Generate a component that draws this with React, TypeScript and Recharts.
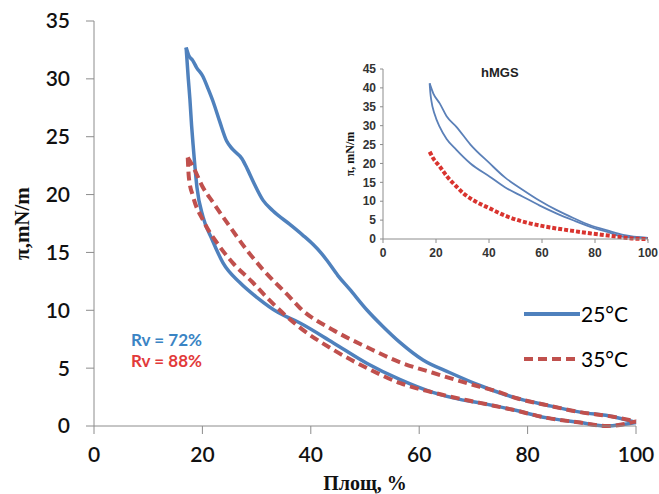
import React from 'react';
import { LineChart, Line, XAxis, YAxis } from 'recharts';

// π–A isotherm loops, [area %, π mN/m]
const blue25Compression: [number, number][] = [
  [17.0, 32.7], [17.5, 32.0], [18.2, 31.6], [18.9, 31.0], [20.1, 30.2], [21.0, 29.2],
  [22.0, 28.0], [23.2, 26.3], [24.5, 24.6], [25.6, 23.9], [27.3, 23.1], [28.3, 22.2],
  [29.3, 21.2], [31.2, 19.5], [33.0, 18.6], [36.2, 17.4], [38.5, 16.5], [40.4, 15.7],
  [42.0, 14.9], [43.0, 14.3], [45.0, 13.0], [47.2, 11.8], [50.4, 10.0], [53.3, 8.6],
  [56.5, 7.2], [60.7, 5.7], [65.7, 4.6], [71.2, 3.5], [77.3, 2.5], [83.6, 1.8],
  [89.7, 1.2], [95.8, 0.8], [100, 0.3],
];
const blue25Expansion: [number, number][] = [
  [17.0, 32.7], [17.4, 30.0], [17.7, 28.2], [18.0, 26.0], [18.3, 24.2], [19.0, 20.6],
  [20.1, 18.1], [21.8, 16.1], [23.8, 14.1], [26.9, 12.4], [30.1, 11.1], [34.0, 9.8],
  [38.0, 8.9], [44.1, 7.2], [50.4, 5.4], [56.5, 4.0], [62.5, 2.9], [67.5, 2.3],
  [71.2, 2.0], [77.3, 1.4], [83.6, 0.7], [89.7, 0.3], [94.6, 0.0], [100, 0.3],
];
const red35Compression: [number, number][] = [
  [17.3, 23.2], [18.3, 22.4], [20.0, 20.7], [22.0, 19.3], [25.1, 17.2], [28.2, 15.2],
  [31.2, 13.5], [36.2, 11.1], [38.0, 10.2], [44.1, 8.3], [50.4, 6.8], [56.5, 5.5],
  [62.5, 4.6], [68.8, 3.7], [74.9, 2.9], [77.3, 2.5], [83.6, 1.8], [89.7, 1.2],
  [95.8, 0.8], [100, 0.4],
];
const red35Expansion: [number, number][] = [
  [17.3, 23.2], [17.5, 21.5], [18.3, 19.8], [20.1, 17.8], [23.2, 15.5], [25.6, 14.1],
  [29.3, 12.4], [31.9, 11.1], [38.0, 8.5], [44.1, 6.6], [50.4, 5.0], [56.5, 3.7],
  [62.5, 2.9], [71.2, 2.0], [77.3, 1.4], [83.6, 0.7], [89.7, 0.3], [94.6, 0.0], [100, 0.4],
];

// hMGS inset
const hmgsBlueOuter: [number, number][] = [
  [17.6, 41.2], [19.0, 38.5], [21.4, 35.9], [24.0, 32.5], [27.7, 29.7], [33.0, 25.0],
  [40.3, 20.0], [46.0, 16.3], [52.8, 13.0], [59.0, 10.2], [65.4, 7.7], [72.0, 5.5],
  [78.0, 3.7], [85.0, 2.2], [90.6, 1.1], [100, 0.3],
];
const hmgsBlueInner: [number, number][] = [
  [17.6, 41.2], [17.9, 38.5], [18.2, 36.8], [19.5, 33.0], [21.4, 29.7], [24.0, 26.5],
  [27.7, 23.6], [33.0, 20.0], [40.3, 16.5], [46.0, 13.7], [52.8, 11.2], [59.0, 8.9],
  [65.4, 6.8], [72.0, 4.9], [78.0, 3.3], [85.0, 1.8], [90.6, 0.6], [100, 0.3],
];
const hmgsRed: [number, number][] = [
  [17.6, 23.1], [19.0, 21.3], [21.4, 19.2], [24.0, 16.7], [27.7, 13.9], [30.5, 12.0],
  [34.0, 10.3], [40.3, 8.1], [46.0, 6.2], [52.8, 4.6], [59.0, 3.6], [65.4, 2.8],
  [72.0, 2.1], [78.0, 1.5], [85.0, 0.9], [90.6, 0.4], [95.0, 0.1], [100, 0.0],
];

const xTicks = [0, 20, 40, 60, 80, 100];
const yTicks = [0, 5, 10, 15, 20, 25, 30, 35];
const insetYTicks = [0, 5, 10, 15, 20, 25, 30, 35, 40, 45];

const legendItems = [
  { label: '25°C', color: '#4f81bd', dash: undefined as string | undefined },
  { label: '35°C', color: '#c0504d', dash: '9 5' },
];

const BLUE = '#4f81bd';
const RED = '#c0504d';
const AXIS = '#8c8c8c';
const SANS = 'Lato, "Open Sans", sans-serif';
const ARIAL = '"Liberation Sans", Arial, sans-serif';
const SERIF = '"Liberation Serif", "DejaVu Serif", serif';

const toPoints = (rows: [number, number][]) => rows.map(([x, y]) => ({ x, y }));

const LegendBox = () => (
  <div style={{ position: 'absolute', left: 524, top: 291 }}>
    {legendItems.map((item) => (
      <div key={item.label} style={{ display: 'flex', alignItems: 'center', height: 45 }}>
        <svg width={56} height={10}>
          <line x1={0} y1={5} x2={56} y2={5} stroke={item.color} strokeWidth={4} strokeDasharray={item.dash} />
        </svg>
        <span style={{ fontFamily: SANS, fontSize: 21, color: '#000', marginLeft: 1 }}>{item.label}</span>
      </div>
    ))}
  </div>
);

const YTitle = ({ viewBox, text, cx, size }: any) => {
  const cy = viewBox.y + viewBox.height / 2;
  return (
    <text x={cx} y={cy} transform={`rotate(-90, ${cx}, ${cy})`} textAnchor="middle" dominantBaseline="central"
      fontFamily={SERIF} fontWeight="bold" fontSize={size} fill="#111">
      {text}
    </text>
  );
};

export default function App() {
  const tickMain = { fontFamily: SANS, fontSize: 21, fontWeight: 600, fill: '#111' };
  const tickInset = { fontFamily: ARIAL, fontSize: 12, fontWeight: 'bold', fill: '#333' };

  return (
    <div style={{ position: 'fixed', left: 0, top: 0, width: 659, height: 494, background: '#fff' }}>
      <LineChart width={659} height={494} margin={{ top: 21, right: 23, bottom: 0, left: 0 }}>
        <XAxis type="number" dataKey="x" domain={[0, 100]} ticks={xTicks} interval={0} height={68}
          stroke={AXIS} tickSize={8} tickMargin={13} tick={tickMain}
          label={{ value: 'Площ, %', position: 'insideBottom', offset: 4, fontFamily: SERIF, fontWeight: 'bold', fontSize: 20, fill: '#111' }} />
        <YAxis type="number" dataKey="y" domain={[0, 35]} ticks={yTicks} interval={0} width={94}
          stroke={AXIS} tickSize={8} tickMargin={16} tick={tickMain}
          label={(props: any) => <YTitle {...props} text="π,mN/m" cx={22} size={21} />} />
        <Line data={toPoints(blue25Compression)} dataKey="y" type="monotone" stroke={BLUE} strokeWidth={3.5} dot={false} isAnimationActive={false} />
        <Line data={toPoints(blue25Expansion)} dataKey="y" type="monotone" stroke={BLUE} strokeWidth={3.5} dot={false} isAnimationActive={false} />
        <Line data={toPoints(red35Compression)} dataKey="y" type="monotone" stroke={RED} strokeWidth={4} strokeDasharray="9 5" dot={false} isAnimationActive={false} />
        <Line data={toPoints(red35Expansion)} dataKey="y" type="monotone" stroke={RED} strokeWidth={4} strokeDasharray="9 5" dot={false} isAnimationActive={false} />
      </LineChart>

      <LegendBox />

      <div style={{ position: 'absolute', left: 131, top: 329, fontFamily: SANS, fontWeight: 'bold', fontSize: 17, color: '#3a84c4', lineHeight: '21px' }}>
        <div>Rv = 72%</div>
        <div style={{ color: '#e23a3a' }}>Rv = 88%</div>
      </div>

      <div style={{ position: 'absolute', left: 330, top: 40 }}>
        <LineChart width={330} height={230} margin={{ top: 29, right: 12, bottom: 0, left: 0 }}>
          <XAxis type="number" dataKey="x" domain={[0, 100]} ticks={xTicks} interval={0} height={31}
            stroke={AXIS} tickSize={4} tickMargin={5} tick={tickInset} />
          <YAxis type="number" dataKey="y" domain={[0, 45]} ticks={insetYTicks} interval={0} width={53}
            stroke={AXIS} tickSize={3} tickMargin={4} tick={tickInset}
            label={(props: any) => <YTitle {...props} text="π, mN/m" cx={20} size={12} />} />
          <Line data={toPoints(hmgsBlueOuter)} dataKey="y" type="monotone" stroke="#5b80b8" strokeWidth={1.8} dot={false} isAnimationActive={false} />
          <Line data={toPoints(hmgsBlueInner)} dataKey="y" type="monotone" stroke="#5b80b8" strokeWidth={1.8} dot={false} isAnimationActive={false} />
          <Line data={toPoints(hmgsRed)} dataKey="y" type="monotone" stroke="#d9342f" strokeWidth={4} strokeDasharray="4 2" dot={false} isAnimationActive={false} />
        </LineChart>
        <div style={{ position: 'absolute', left: 151, top: 25, fontFamily: ARIAL, fontWeight: 'bold', fontSize: 13, color: '#222' }}>
          hMGS
        </div>
      </div>
    </div>
  );
}
